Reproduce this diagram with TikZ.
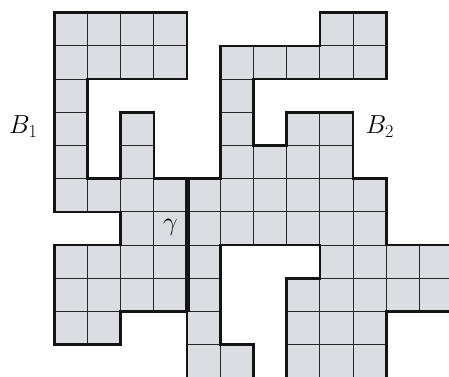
\documentclass[tikz,border=0pt]{standalone}
\usepackage{fix-cm}
\definecolor{cellfill}{RGB}{220,221,224}
\tikzset{
  cellbox/.style={fill=cellfill, draw=black!85, line width=1.1pt},
  outline/.style={draw=black!92, line width=2.7pt, line join=miter},
  gammaline/.style={draw=black!92, line width=4.8pt},
  lab/.style={inner sep=0pt, font=\fontsize{26}{30}\selectfont}
}
\begin{document}
\begin{tikzpicture}[x=1pt,y=-1pt]
\useasboundingbox (0,0) rectangle (449,376);
\clip (0,0) rectangle (449,376);
\begin{scope}[shift={(54.3,12.7)}, x=33.2pt, y=-33.2pt]
  \foreach \r/\cols in {0/{0,1,2,3,8,9},
                        1/{0,1,2,3,5,6,7,8,9},
                        2/{0,5},
                        3/{0,2,5,7,8},
                        4/{0,2,5,6,7,8},
                        5/{0,1,2,3,4,5,6,7,8,9},
                        6/{2,3,4,5,6,7,8,9},
                        7/{0,1,2,3,4,8,9,10,11},
                        8/{0,1,2,3,4,7,8,9,10,11},
                        9/{0,1,4,7,8,9},
                        10/{4,5,7,8,9}}
    \foreach \c in \cols
      \path[cellbox] (\c,\r) rectangle ++(1,1);
  \draw[outline] (0,0) -- (4,0) -- (4,2) -- (1,2) -- (1,5) -- (2,5) -- (2,3)
    -- (3,3) -- (3,5) -- (5,5) -- (5,1) -- (8,1) -- (8,0) -- (10,0) -- (10,2)
    -- (6,2) -- (6,4) -- (7,4) -- (7,3) -- (9,3) -- (9,5) -- (10,5) -- (10,7)
    -- (12,7) -- (12,9) -- (10,9) -- (10,11) -- (7,11) -- (7,8) -- (8,8)
    -- (8,7) -- (5,7) -- (5,10) -- (6,10) -- (6,11) -- (4,11) -- (4,9)
    -- (2,9) -- (2,10) -- (0,10) -- (0,7) -- (2,7) -- (2,6) -- (0,6) -- cycle;
  \coordinate (g1) at (4,5);
  \coordinate (g2) at (4,9);
  \draw[gammaline] (g1) -- (g2);
\end{scope}
\node[lab, anchor=base west] (b1) at (9,133.3) {$B_1$};
\node[lab, anchor=base west] (b2) at (365.5,133.3) {$B_2$};
\node[lab, anchor=base west] (gam) at (163,230) {$\gamma$};
\end{tikzpicture}
\end{document}
